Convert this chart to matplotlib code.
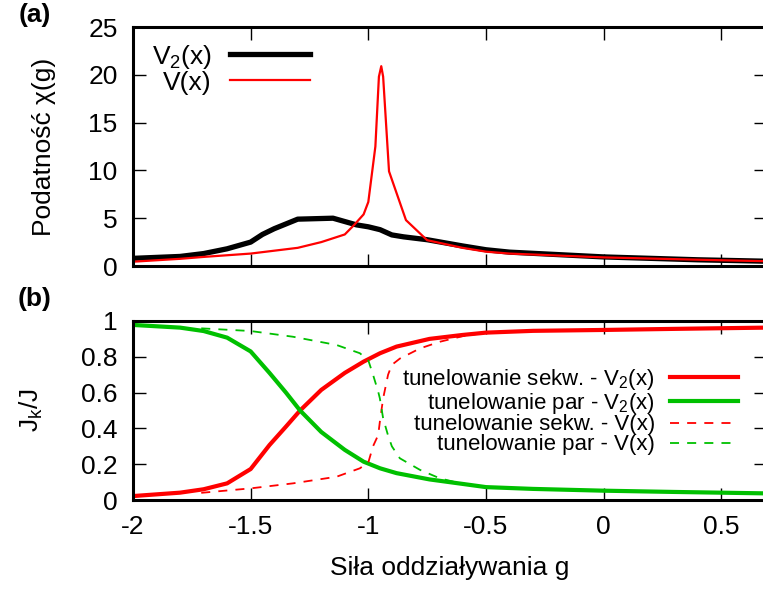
import matplotlib
matplotlib.use("Agg")
import matplotlib.pyplot as plt

plt.rcParams["font.family"] = ["Liberation Sans", "DejaVu Sans"]
plt.rcParams["mathtext.default"] = "regular"
plt.rcParams["axes.unicode_minus"] = False

# ---------------------------------------------------------------------------
# data: susceptibility chi(g)
# ---------------------------------------------------------------------------

g_chi_v2 = [-2.0, -1.8, -1.7, -1.6, -1.5, -1.45, -1.4, -1.3, -1.15, -1.05,
            -1.0, -0.95, -0.9, -0.85, -0.75, -0.6, -0.5, -0.4, -0.2, 0.0,
            0.2, 0.4, 0.69]
chi_v2 = [0.8, 1.0, 1.3, 1.8, 2.5, 3.3, 3.9, 4.9, 5.0, 4.3,
          4.1, 3.8, 3.25, 3.05, 2.75, 2.1, 1.7, 1.45, 1.2, 0.95,
          0.8, 0.65, 0.5]

g_chi_v = [-2.0, -1.8, -1.7, -1.5, -1.3, -1.2, -1.1, -1.06, -1.02, -1.0,
           -0.97, -0.955, -0.945, -0.937, -0.912, -0.84, -0.75, -0.6, -0.5,
           -0.4, -0.25, 0.0, 0.25, 0.5, 0.69]
chi_v = [0.45, 0.75, 0.95, 1.3, 1.9, 2.5, 3.3, 4.3, 5.4, 6.7,
         12.5, 19.8, 20.9, 19.8, 9.9, 4.8, 2.7, 1.9, 1.5,
         1.3, 1.15, 0.9, 0.75, 0.6, 0.5]

# ---------------------------------------------------------------------------
# data: current fractions J_k/J
# ---------------------------------------------------------------------------

g_v2 = [-2.0, -1.8, -1.7, -1.6, -1.5, -1.42, -1.35, -1.29, -1.2, -1.1,
        -1.02, -0.95, -0.88, -0.74, -0.6, -0.5, -0.3, 0.0, 0.3, 0.69]
seq_v2 = [0.022, 0.041, 0.06, 0.093, 0.173, 0.307, 0.41, 0.5, 0.615, 0.71,
          0.773, 0.82, 0.857, 0.9, 0.922, 0.935, 0.945, 0.95, 0.956, 0.963]
pair_v2 = [0.978, 0.963, 0.944, 0.907, 0.83, 0.71, 0.6, 0.5, 0.38, 0.28,
           0.214, 0.177, 0.15, 0.115, 0.09, 0.072, 0.062, 0.052, 0.045, 0.037]

g_v = [-1.71, -1.5, -1.32, -1.135, -1.036, -1.0, -0.98, -0.958, -0.951,
       -0.937, -0.916, -0.9, -0.866, -0.78, -0.696, -0.6, -0.5, -0.3, 0.0,
       0.3, 0.69]
seq_v = [0.04, 0.065, 0.093, 0.13, 0.177, 0.21, 0.30, 0.363, 0.437,
         0.568, 0.70, 0.755, 0.79, 0.847, 0.884, 0.915, 0.935, 0.945, 0.95,
         0.956, 0.963]
pair_v = [0.959, 0.944, 0.912, 0.866, 0.82, 0.78, 0.70, 0.605, 0.568,
          0.456, 0.36, 0.30, 0.233, 0.168, 0.121, 0.09, 0.072, 0.062, 0.052,
          0.045, 0.037]

x_ticks = [-2, -1.5, -1, -0.5, 0, 0.5]
x_tick_labels = ["-2", "-1.5", "-1", "-0.5", "0", "0.5"]
chi_ticks = [0, 5, 10, 15, 20, 25]
frac_ticks = [0, 0.2, 0.4, 0.6, 0.8, 1.0]
frac_tick_labels = ["0", "0.2", "0.4", "0.6", "0.8", "1"]

RED = "#ff0000"
GREEN = "#00c000"
FS = 19

W, H = 763, 589
fig = plt.figure(figsize=(W / 100, H / 100), dpi=100)

left = 133 / W
width = 633 / W
ax_a = fig.add_axes([left, 1 - 266 / H, width, (266 - 27) / H])
ax_b = fig.add_axes([left, 1 - 500 / H, width, (500 - 321) / H])


def style_axes(ax):
    for sp in ax.spines.values():
        sp.set_linewidth(2.2)
    ax.tick_params(which="both", direction="in", length=9, width=1.0,
                   top=True, right=True, labelsize=FS, pad=11)
    ax.set_xlim(-2, 0.69)
    ax.set_xticks(x_ticks)


# --- panel (a) ---
style_axes(ax_a)
ax_a.plot(g_chi_v2, chi_v2, color="black", lw=3.8, label="V$_2$(x)")
ax_a.plot(g_chi_v, chi_v, color=RED, lw=1.6, label="V(x)")
ax_a.set_ylim(0, 25)
ax_a.set_yticks(chi_ticks)
ax_a.tick_params(axis="x", labelbottom=False)
ax_a.set_ylabel("Podatność χ(g)", fontsize=FS, va="center")
ax_a.yaxis.set_label_coords(-0.140, 0.5)
ax_a.legend(loc="upper right", bbox_to_anchor=(0.2796, 0.935),
            frameon=False, markerfirst=False, fontsize=FS,
            handlelength=3.03, handletextpad=0.7, labelspacing=0.0,
            borderpad=0, borderaxespad=0)

# --- panel (b) ---
style_axes(ax_b)
ax_b.plot(g_v2, seq_v2, color=RED, lw=3.0,
          label="tunelowanie sekw. - V$_2$(x)")
ax_b.plot(g_v2, pair_v2, color=GREEN, lw=3.0,
          label="tunelowanie par - V$_2$(x)")
ax_b.plot(g_v, seq_v, color=RED, lw=1.3, dashes=(5, 4.5),
          label="tunelowanie sekw. - V(x)")
ax_b.plot(g_v, pair_v, color=GREEN, lw=1.3, dashes=(5, 4.5),
          label="tunelowanie par - V(x)")
ax_b.set_ylim(0, 1)
ax_b.set_yticks(frac_ticks)
ax_b.set_yticklabels(frac_tick_labels)
ax_b.set_xticklabels(x_tick_labels)
ax_b.set_ylabel("J$_k$/J", fontsize=FS, va="center")
ax_b.yaxis.set_label_coords(-0.16, 0.5)
ax_b.set_xlabel("Siła oddziaływania g", fontsize=FS, labelpad=12)
ax_b.legend(loc="upper right", bbox_to_anchor=(0.956, 0.745),
            frameon=False, markerfirst=False, fontsize=16,
            handlelength=3.05, handletextpad=0.7, labelspacing=-0.05,
            borderpad=0, borderaxespad=0)

fig.text(35 / W, 1 - 15 / H, "(a)", fontsize=FS, fontweight="bold",
         ha="center", va="center")
fig.text(35 / W, 1 - 299 / H, "(b)", fontsize=FS, fontweight="bold",
         ha="center", va="center")

fig.savefig("out.png", dpi=100)
